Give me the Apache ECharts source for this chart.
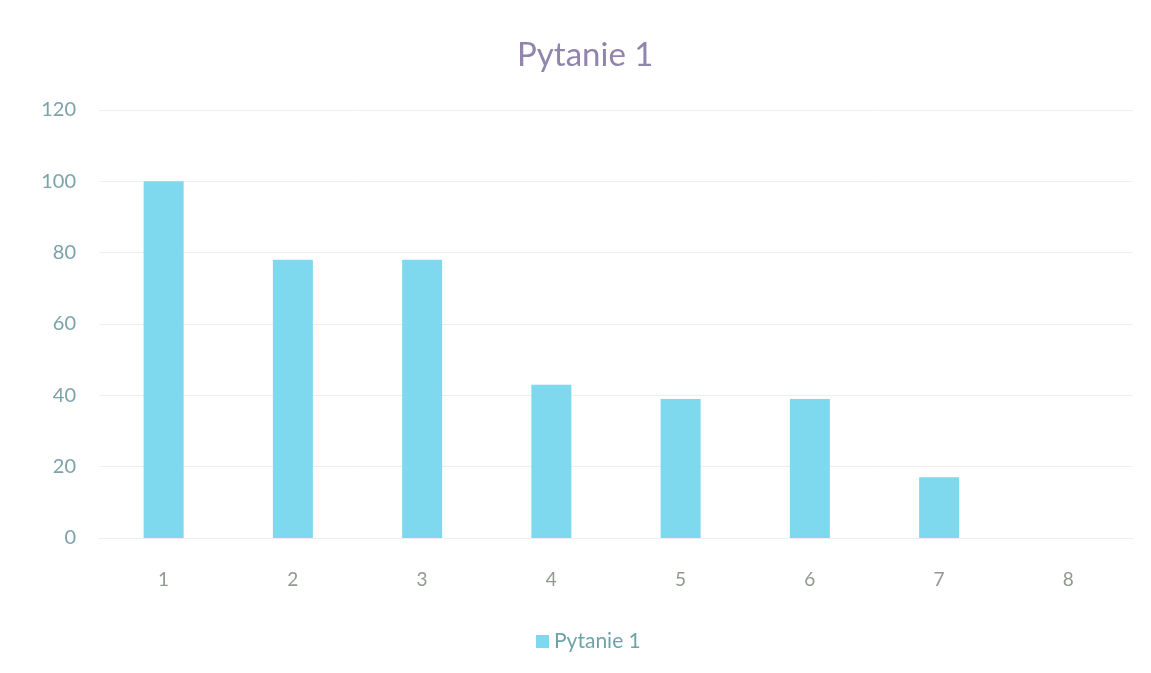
<!DOCTYPE html>
<html>
<head>
<meta charset="utf-8">
<script src="https://cdn.jsdelivr.net/npm/echarts@6/dist/echarts.min.js"></script>
<style>
html,body{margin:0;padding:0;background:#fff;}
#c{width:1151px;height:673px;}
</style>
</head>
<body>
<div id="c"></div>
<script>
const chartTitle = "Pytanie 1";
const seriesName = "Pytanie 1";
const categories = ["1","2","3","4","5","6","7","8"];
const values = [100, 78, 78, 43, 39, 39, 17, 0];
const yTicks = [0, 20, 40, 60, 80, 100, 120];

const chart = echarts.init(document.getElementById('c'));
chart.setOption({
  backgroundColor: '#ffffff',
  animation: false,
  title: {
    text: chartTitle,
    left: 512,
    top: 34,
    textStyle: { fontFamily: 'Lato', fontSize: 33, fontWeight: 'normal', color: '#9185ad' }
  },
  legend: {
    data: [seriesName],
    bottom: 16,
    left: 531,
    icon: 'rect',
    itemWidth: 13,
    itemHeight: 13,
    itemGap: 8,
    textStyle: { fontFamily: 'Lato', fontSize: 21, color: '#6fa3ab' }
  },
  grid: { left: 99, right: 18, top: 110, bottom: 135, containLabel: false },
  xAxis: {
    type: 'category',
    data: categories,
    axisLine: { show: true, lineStyle: { color: '#eeeeee' } },
    axisTick: { show: false },
    axisLabel: { margin: 32, fontFamily: 'Lato', fontSize: 19, color: '#8f9a8c' }
  },
  yAxis: {
    type: 'value',
    min: yTicks[0],
    max: yTicks[yTicks.length - 1],
    interval: 20,
    axisLine: { show: false },
    axisTick: { show: false },
    splitLine: { lineStyle: { color: '#eeeeee' } },
    axisLabel: { margin: 23, fontFamily: 'Lato', fontSize: 20, color: '#7aa3ab' }
  },
  series: [{
    name: seriesName,
    type: 'bar',
    data: values,
    barWidth: 40,
    itemStyle: { color: '#7ed9ee' }
  }]
});
</script>
</body>
</html>
